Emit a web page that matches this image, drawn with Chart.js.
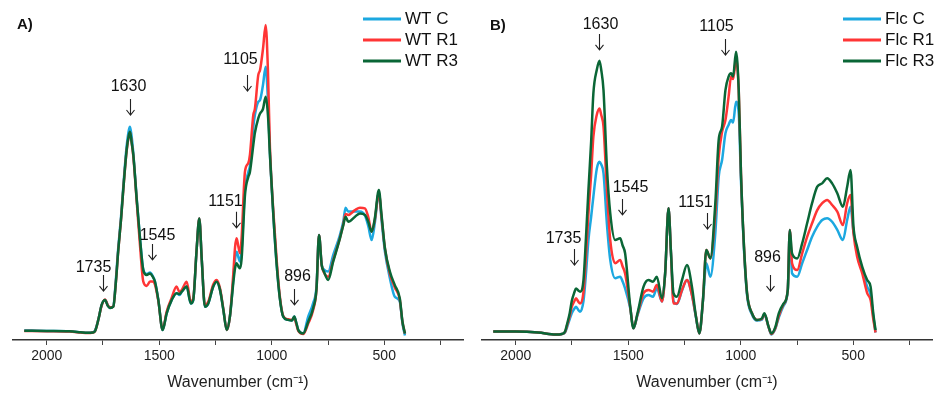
<!DOCTYPE html>
<html>
<head>
<meta charset="utf-8">
<script src="https://cdn.jsdelivr.net/npm/chart.js@4.4.0/dist/chart.umd.min.js"></script>
<style>
  html, body { margin: 0; padding: 0; background: #fff; }
  #wrap { position: relative; width: 935px; height: 394px; }
  #wrap canvas { position: absolute; top: 0; }
</style>
</head>
<body>
<div id="wrap">
  <canvas id="chartA" width="467" height="394" style="left:0"></canvas>
  <canvas id="chartB" width="468" height="394" style="left:467px"></canvas>
</div>
<script>
// ---- panel A (WT) ----
var wnA = [2100,2000,1900,1850,1820,1795,1785,1770,1756,1741,
  1728,1719,1704,1693,1682,1670,1660,1645,1635,1630,
  1623,1615,1600,1585,1571,1556,1541,1530,1519,1504,
  1485,1467,1445,1423,1410,1400,1378,1360,1349,1334,
  1322,1311,1297,1282,1260,1245,1230,1215,1200,1186,
  1171,1163,1156,1148,1141,1134,1119,1104,1097,1082,
  1075,1060,1052,1039,1027,1017,1008,993,978,964,
  949,927,910,900,890,882,860,838,816,801,
  790,778,768,749,727,697,682,672,660,630,
  608,586,571,556,542,524,512,497,475,453,
  431,419,408];
var wtC = [3.2,3.0,2.9,2.6,2.4,2.6,3.2,7,11.7,13.3,
  11.5,10.7,11.3,20,31,41,51,64.5,70,71.1,
  68,62,47,33.5,23.5,22,22.5,21.5,19.5,13.3,
  3.3,8.9,13.3,15.6,15,16.1,17.8,12.2,13.3,30,
  40.5,26.7,11.1,12.2,17.8,19.4,16.7,10,3.3,7.8,
  20,27,29.4,27.5,26.1,30,50,56,58,71,
  75,79.4,80,85,91.1,80,62,41.7,25,13.9,
  7.8,6.7,6.5,7.8,5.5,3.3,2.2,7.8,12.3,18,
  35,25,23.5,22.8,28.3,35,39.5,44.1,42.8,42.8,
  42.8,41.5,38,33.3,39,49,40,29.5,20.6,14.4,
  12.8,5.5,1.5];
var wtR1 = [3.0,2.9,2.8,2.5,2.3,2.5,3.0,7,11.5,13.5,
  11.5,10.9,11.2,19,30,40,50,63,68,69.2,
  66,61,46,31,19.5,18,19.5,19.5,18.5,13,
  3.5,9.5,14,17.8,16,16.7,19.4,12.8,13.8,30,
  40.5,26.7,11.5,12.8,18.5,20,17.2,10.3,3.3,7.8,
  22,31,33.9,31,28.9,34,56.1,59,61.7,75,
  77,88.3,90,97,105,90,64,43,26.5,14.5,
  8,6.9,6.7,7.5,5.0,3.0,2.0,5.5,10,17,
  35,25,22.5,21.1,26.5,34,38.5,42,41.7,43.3,
  44.1,43.9,41,36.1,40,49,41,30.5,22,17.5,
  13.5,6,2.2];
var wtR3 = [3.1,3.0,2.9,2.6,2.4,2.5,3.0,7,11.7,13.3,
  11.3,10.7,11.1,19,30,40,50,63.3,68.3,69.4,
  66,61.5,46.7,33.3,23.3,21.7,22.2,21.2,19.4,13.3,
  3.3,8.9,13.3,15.6,15.3,16.1,17.8,12.2,13.3,30,
  40.5,26.7,11.1,12.2,17.8,19.4,16.7,10,3.3,7.8,
  19,24,25.6,24.5,23.9,27,48.3,54.4,56,65,
  69,73.9,75.5,77,81.1,75,61.7,41.7,25,13.9,
  7.8,6.7,6.5,7.8,5.5,3.3,2.2,6.1,10.6,17.2,
  35,25,22.8,20,26.1,33.9,38.3,41.1,39.4,41.1,
  42.2,41.7,39.4,36.1,40.5,50,41.7,30.6,22.8,18.3,
  13.9,6.1,2.2];
var namesA = ['WT C', 'WT R1', 'WT R3'];

// ---- panel B (Flc) ----
var wnB = [2100,2000,1900,1823,1795,1781,1773,1760,1751,1739,
  1732,1722,1714,1699,1688,1677,1665,1655,1640,1628,
  1620,1610,1595,1580,1558,1536,1525,1514,1491,1477,
  1459,1432,1410,1390,1373,1350,1336,1321,1310,1299,
  1284,1261,1239,1217,1199,1184,1168,1153,1135,1113,
  1098,1083,1068,1054,1043,1034,1021,1009,999,987,
  972,950,928,906,895,876,864,846,831,809,
  791,782,772,749,727,705,683,660,638,616,
  594,571,546,527,512,499,483,460,438,423,
  411,401];
var flcC = [2.8,2.8,2.5,1.8,2.0,2.5,4,7,8.9,10.5,
  11.1,10,9.4,13,22,33.3,41,47.8,57,59.4,
  58.5,55.6,38.9,26.7,20.6,21.1,19.5,17.2,10.5,3.9,
  8.2,13.9,15,14.4,17.2,12.8,22.2,43.9,28.9,13,
  12,16.5,20,15,7.5,2.2,13,25.6,21.1,35.6,
  54.4,60,68.9,71.7,73.3,72.5,79.4,75.6,53,32,
  15,8.5,6.5,6.8,8.5,4.2,1.8,3.8,7.5,11.5,
  16.5,36.7,22.2,21.1,25.6,30,34.4,37.8,40,40.6,
  39.4,36.7,33.3,40,44.4,36,30,23.3,17.8,15,
  8,2.5];
var flcR1 = [2.8,2.8,2.5,1.8,2.0,2.6,4.5,8,11,13,
  13.9,12.8,12.2,16,28,42.2,55,67.8,75,77.2,
  75,71.1,50,33.3,25.6,26.7,24.5,22.2,10.8,3.9,
  8.5,15.6,16.7,16.1,18.3,12.8,22.2,43.9,28.9,12.2,
  12.2,16.7,20,15,7.8,2.2,13.3,30,27.2,42.2,
  61,69.4,73.3,81.1,87.8,87,93.3,83.3,55.6,33.3,
  15.6,8.9,6.7,7,8.7,4.3,2.0,4.0,8,12,
  16.7,36.7,25.6,23.3,28.9,34.4,38.9,43.3,45.6,46.7,
  45,42.8,38.3,45.6,48.3,35.6,27.8,22.2,15.6,13.3,
  7,2.5];
var flcR3 = [2.8,2.8,2.5,1.8,2.0,2.8,5,9,13,16,
  17.2,16.5,16.1,20,34,50,66,82.2,90,93.1,
  90,83.3,57.8,42.2,33.3,33.9,31.5,28.9,11.1,3.9,
  8.9,17.8,20,19.4,21.1,13.9,22.2,43.9,28.9,15.6,
  14.4,20,25,17.8,7.8,2.2,13.3,30,27.2,45.6,
  66.7,71.1,83.3,87.8,88.9,87.8,96.1,83.3,55.6,33.3,
  15.6,8.9,6.7,7.2,8.9,4.4,2.2,4.4,8.9,12.2,
  16.7,36.7,28.9,27.2,32.2,38.9,45.6,51.1,52.2,53.9,
  52.2,48.9,44.4,51.1,56.7,37.8,31.1,24.4,20,17.8,
  8.9,3.3];
var namesB = ['Flc C', 'Flc R1', 'Flc R3'];

// x ticks every 250, only the 500s carry a label
var tickValues = [2000, 1750, 1500, 1250, 1000, 750, 500, 250];
var tickLabels = ['2000', '', '1500', '', '1000', '', '500', ''];

// peak labels: arrow wavenumber, arrow tip height, text offset
var peaksA = [
  {label: '1735', wn: 1750, tip: 16.3, dx: -10, dy: 24},
  {label: '1630', wn: 1628, tip: 75, dx: -2, dy: 28},
  {label: '1545', wn: 1531, tip: 26.7, dx: 5, dy: 24},
  {label: '1151', wn: 1159, tip: 37.4, dx: -11, dy: 26},
  {label: '1105', wn: 1109, tip: 83, dx: -7, dy: 31},
  {label: '896', wn: 901, tip: 11.7, dx: 3, dy: 28}
];
var peaksB = [
  {label: '1735', wn: 1739, tip: 25, dx: -11, dy: 26},
  {label: '1630', wn: 1629, tip: 96.7, dx: 1, dy: 25},
  {label: '1545', wn: 1526, tip: 41.7, dx: 8, dy: 27},
  {label: '1151', wn: 1150, tip: 37, dx: -12, dy: 26},
  {label: '1105', wn: 1072, tip: 95, dx: -9, dy: 28},
  {label: '896', wn: 868, tip: 16.3, dx: -3, dy: 34}
];

var colors = ['#1ca8e0', '#ff3535', '#0a6636'];
var FONT = '"Liberation Sans", Arial, sans-serif';

[[wnA, wtC, wtR1, wtR3], [wnB, flcC, flcR1, flcR3]].forEach(function (g) {
  g.forEach(function (a) { if (a.length !== g[0].length) throw new Error('length mismatch ' + a.length + ' vs ' + g[0].length); });
});

var decor = {
  id: 'decor',
  afterDraw: function (chart, args, o) {
    var ctx = chart.ctx, x = chart.scales.x, y = chart.scales.y;
    ctx.save();
    ctx.textBaseline = 'middle';
    ctx.fillStyle = '#111';
    ctx.font = 'bold 15px ' + FONT;
    ctx.textAlign = 'left';
    ctx.fillText(o.panel, o.panelX, o.panelY);

    ctx.font = '16px ' + FONT;
    ctx.textAlign = 'center';
    ctx.strokeStyle = '#222';
    ctx.lineWidth = 1.1;
    o.peaks.forEach(function (p) {
      var px = Math.round(x.getPixelForValue(p.wn)) + 0.5;
      var tip = y.getPixelForValue(p.tip);
      ctx.fillText(p.label, px + p.dx, tip - p.dy);
      ctx.beginPath();
      ctx.moveTo(px, tip - 16);
      ctx.lineTo(px, tip);
      ctx.moveTo(px - 4, tip - 5);
      ctx.lineTo(px, tip);
      ctx.lineTo(px + 4, tip - 5);
      ctx.stroke();
    });

    // legend
    ctx.font = '17px ' + FONT;
    ctx.textAlign = 'left';
    chart.data.datasets.forEach(function (ds, i) {
      var ly = o.legendY + i * 21;
      ctx.strokeStyle = ds.borderColor;
      ctx.lineWidth = 3;
      ctx.beginPath();
      ctx.moveTo(o.legendX, ly);
      ctx.lineTo(o.legendX + 38, ly);
      ctx.stroke();
      ctx.fillStyle = '#111';
      ctx.fillText(ds.label, o.legendX + 42, ly);
    });
    ctx.restore();
  }
};

function makePanel(id, wn, series, names, peaks, pad, deco) {
  var datasets = series.map(function (vals, i) {
    return {
      label: names[i],
      data: wn.map(function (w, k) { return {x: w, y: vals[k]}; }),
      borderColor: colors[i],
      borderWidth: 2.5,
      pointRadius: 0,
      cubicInterpolationMode: 'monotone',
      order: 2 - i
    };
  });
  deco.peaks = peaks;
  return new Chart(document.getElementById(id), {
    type: 'line',
    data: {datasets: datasets},
    plugins: [decor],
    options: {
      responsive: false,
      animation: false,
      layout: {padding: {left: pad[0], right: pad[1], top: 10, bottom: 0}},
      plugins: {legend: {display: false}, tooltip: {enabled: false}, decor: deco},
      scales: {
        x: {
          type: 'linear',
          reverse: true,
          min: 150,
          max: 2150,
          afterBuildTicks: function (s) {
            s.ticks = tickValues.map(function (v) { return {value: v}; });
          },
          afterFit: function (s) { s.height = 54; },
          border: {display: true, color: '#333', width: 1.5},
          grid: {display: true, drawOnChartArea: false, drawTicks: true, tickLength: 5, color: '#444'},
          ticks: {
            autoSkip: false,
            maxRotation: 0,
            padding: 3,
            color: '#222',
            font: {family: FONT, size: 14},
            callback: function (v) {
              var i = tickValues.indexOf(v);
              return i < 0 ? '' : tickLabels[i];
            }
          },
          title: {
            display: true,
            text: 'Wavenumber (cm\u207B\u00B9)',
            color: '#222',
            font: {family: FONT, size: 16},
            padding: {top: 2, bottom: 2}
          }
        },
        y: {display: false, min: 0, max: 110}
      }
    }
  });
}

makePanel('chartA', wnA, [wtC, wtR1, wtR3], namesA, peaksA, [13, 4],
  {panel: 'A)', panelX: 17, panelY: 25, legendX: 363, legendY: 19});
makePanel('chartB', wnB, [flcC, flcR1, flcR3], namesB, peaksB, [15, 3],
  {panel: 'B)', panelX: 23, panelY: 26, legendX: 376, legendY: 19});
</script>
</body>
</html>
